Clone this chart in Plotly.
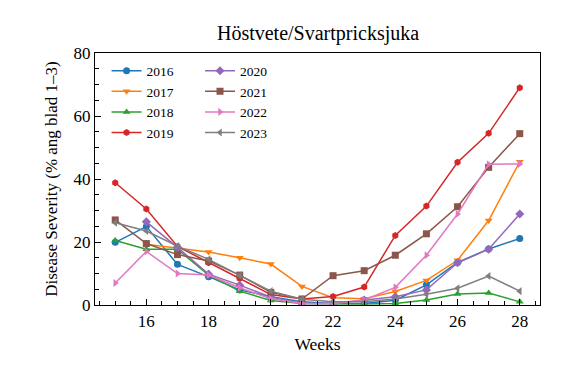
import plotly.graph_objects as go

weeks = list(range(15, 29))

s2016 = [19.9, 24.9, 12.9, 9.0, 4.8, 2.6, 1.0, 0.5, 0.5, 1.5, 6.4, 13.5, 17.8, 21.1]
s2017 = [None, 19.3, 18.0, 16.8, 15.0, 13.0, 5.9, 2.3, 2.0, 4.3, 7.8, 14.2, 26.8, 45.5]
s2018 = [20.5, 17.7, 17.7, 9.5, 4.4, 1.4, 0.5, 0.3, 0.3, 0.5, 1.6, 3.5, 3.8, 1.0]
s2019 = [38.8, 30.5, 18.6, 13.4, 8.4, 3.3, 1.9, 2.7, 5.7, 22.1, 31.4, 45.3, 54.5, 69.0]
s2020 = [None, 26.4, 18.3, 9.8, 6.3, 2.5, 0.5, 0.5, 1.6, 2.6, 4.8, 13.4, 17.7, 28.9]
s2021 = [27.0, 19.5, 16.0, 14.0, 9.5, 4.0, 1.9, 9.3, 10.9, 15.8, 22.6, 31.2, 43.7, 54.4]
s2022 = [7.0, 17.0, 10.0, 9.5, 5.5, 2.0, 0.5, 0.5, 1.6, 5.6, 15.8, 28.9, 44.7, 44.8]
s2023 = [26.1, 23.5, 18.7, 14.5, 9.4, 4.4, 1.8, 1.0, 1.0, 1.9, 3.4, 5.3, 9.2, 4.4]

years = ["2016", "2017", "2018", "2019", "2020", "2021", "2022", "2023"]
series = [s2016, s2017, s2018, s2019, s2020, s2021, s2022, s2023]
colors = ["#1f77b4", "#ff7f0e", "#2ca02c", "#d62728", "#9467bd", "#8c564b", "#e377c2", "#7f7f7f"]
symbols = ["circle", "triangle-down", "triangle-up", "hexagon", "diamond", "square",
           "triangle-right", "triangle-left"]

title_text = "Höstvete/Svartpricksjuka"
x_label = "Weeks"
y_label = "Disease Severity (% ang blad 1–3)"
x_ticks = [16, 18, 20, 22, 24, 26, 28]
y_ticks = [0, 20, 40, 60, 80]

FONT = "Liberation Serif, Times New Roman, serif"

fig = go.Figure()
for i, (yr, vals, c, sym) in enumerate(zip(years, series, colors, symbols)):
    fig.add_trace(go.Scatter(
        x=weeks, y=vals, name=yr, mode="lines+markers",
        line=dict(color=c, width=1.5),
        marker=dict(color=c, symbol=sym, size=7, line=dict(width=0)),
        legend="legend" if i < 4 else "legend2",
        connectgaps=False,
    ))

axis_common = dict(
    showline=True, linecolor="black", linewidth=1.2, mirror=True,
    ticks="inside", ticklen=6, tickwidth=1.2, tickcolor="black",
    showgrid=False, zeroline=False,
    tickfont=dict(family=FONT, size=17, color="black"),
)

legend_common = dict(
    font=dict(family=FONT, size=13.5, color="black"),
    bgcolor="rgba(0,0,0,0)", borderwidth=0,
    xanchor="left", yanchor="top", tracegroupgap=0,
    itemwidth=30,
)

fig.update_layout(
    width=571, height=372,
    margin=dict(l=87, r=39, t=45, b=75),
    paper_bgcolor="white", plot_bgcolor="white",
    title=dict(text=title_text, x=0.543, xanchor="center", y=0.933, yanchor="middle",
               font=dict(family=FONT, size=20, color="black")),
    xaxis=dict(**axis_common, range=[14.35, 28.65], tickvals=x_ticks,
               minor=dict(ticks="inside", dtick=0.5, tick0=14, ticklen=3.5, tickcolor="black", tickwidth=1),
               title=dict(text=x_label, font=dict(family=FONT, size=17.5, color="black"), standoff=8)),
    yaxis=dict(**axis_common, range=[0, 80], tickvals=y_ticks,
               minor=dict(ticks="inside", dtick=5, ticklen=3.5, tickcolor="black", tickwidth=1),
               title=dict(text=y_label, font=dict(family=FONT, size=17, color="black"), standoff=11)),
    legend=dict(**legend_common, x=0.026, y=0.99),
    legend2=dict(**legend_common, x=0.236, y=0.99),
    showlegend=True,
)

fig.write_html("out.html")
